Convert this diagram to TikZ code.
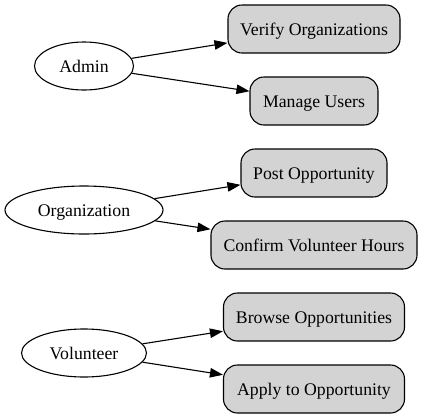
\documentclass[tikz,border=0pt]{standalone}
\usepackage{fontspec}
\setmainfont{Liberation Serif}
\usetikzlibrary{arrows.meta,shapes.geometric}
\definecolor{taskgray}{HTML}{D3D3D3}
\begin{document}
\begin{tikzpicture}[x=1bp,y=-1bp,
  lbl/.style={font=\fontsize{17.8}{20}\selectfont, text height=12bp, text depth=0bp},
  role/.style={lbl, ellipse, draw, line width=1.1bp, minimum height=48bp, inner sep=0pt},
  task/.style={lbl, rectangle, rounded corners=14bp, draw, fill=taskgray, line width=1.1bp, minimum height=48bp, inner sep=0pt},
  edge/.style={-{Triangle[length=13bp,width=9.5bp]}, line width=1.1bp}]
\useasboundingbox (0,0) rectangle (422,419);
\node[role, minimum width=99bp]  (admin) at (84,66) {Admin};
\node[role, minimum width=158bp] (org)   at (84,210) {Organization};
\node[role, minimum width=125bp] (vol)   at (84,353) {Volunteer};

\node[task, minimum width=172bp] (verify)  at (314,29)  {Verify Organizations};
\node[task, minimum width=128bp] (manage)  at (314,101) {Manage Users};
\node[task, minimum width=146bp] (post)    at (314,173) {Post Opportunity};
\node[task, minimum width=206bp] (confirm) at (314,245) {Confirm Volunteer Hours};
\node[task, minimum width=181bp] (browse)  at (314,317) {Browse Opportunities};
\node[task, minimum width=181bp] (apply)   at (314,389) {Apply to Opportunity};

\draw[edge] (admin) -- (verify);
\draw[edge] (admin) -- (manage);
\draw[edge] (org) -- (post);
\draw[edge] (org) -- (confirm);
\draw[edge] (vol) -- (browse);
\draw[edge] (vol) -- (apply);
\end{tikzpicture}
\end{document}
